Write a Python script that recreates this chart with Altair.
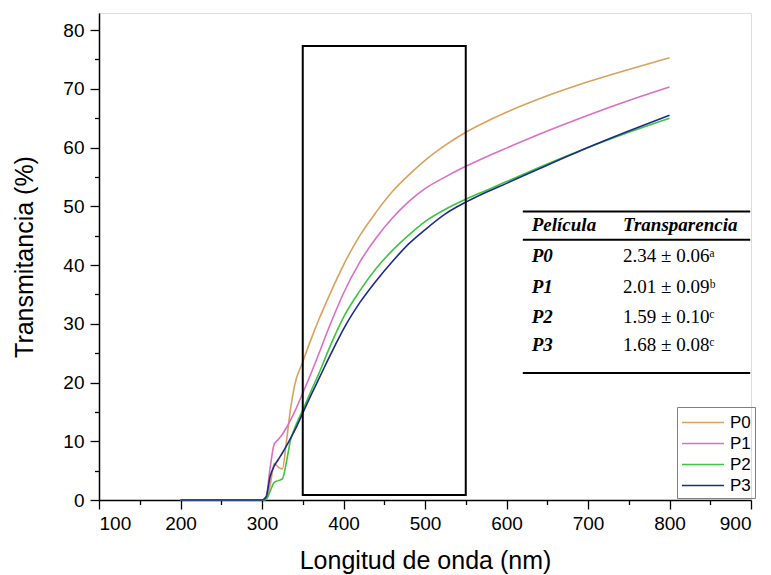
import altair as alt
import pandas as pd

# ---- data ----
wl = [200, 250, 300, 305, 310, 315, 320, 325, 330, 335, 340, 350, 360, 370, 380,
      390, 400, 420, 440, 460, 480, 500, 525, 550, 575, 600, 650, 700, 750, 800]

p0 = [0, 0, 0, 0.2, 2.5, 6.2, 5.6, 5.3, 10.0, 15.5, 19.5, 23.5, 27.3, 30.8, 34.0,
      37.1, 40.0, 45.0, 49.0, 52.5, 55.3, 57.8, 60.4, 62.6, 64.4, 66.0, 68.8, 71.2, 73.3, 75.3]
p1 = [0, 0, 0, 0.5, 5.5, 9.5, 10.3, 11.2, 12.3, 13.6, 15.0, 18.2, 21.5, 25.0, 28.6,
      32.0, 35.2, 40.5, 44.6, 48.0, 50.8, 53.0, 55.0, 56.8, 58.4, 59.9, 62.8, 65.5, 68.0, 70.3]
p2 = [0, 0, 0, 0.1, 1.5, 3.0, 3.3, 3.6, 6.5, 10.2, 12.2, 15.3, 18.5, 21.6, 25.0,
      28.2, 31.1, 35.6, 39.4, 42.5, 45.1, 47.4, 49.5, 51.2, 52.7, 54.2, 57.2, 60.0, 62.6, 65.0]
p3 = [0, 0, 0, 0.5, 4.0, 5.8, 6.9, 8.0, 9.2, 10.5, 11.8, 14.8, 17.8, 20.7, 23.6,
      26.4, 29.1, 33.6, 37.3, 40.6, 43.6, 46.0, 48.7, 50.7, 52.4, 53.9, 57.0, 60.0, 62.8, 65.5]

series = ["P0", "P1", "P2", "P3"]
colors = ["#D9A15A", "#DA6FC6", "#3FC43F", "#1E2A8A"]

# transparency table
films = ["P0", "P1", "P2", "P3"]
transp = ["2.34 \u00b1 0.06\u1d43", "2.01 \u00b1 0.09\u1d47",
          "1.59 \u00b1 0.10\u1d9c", "1.68 \u00b1 0.08\u1d9c"]
headers = ["Película", "Transparencia"]

# highlighted window (nm, %)
box_x = [350, 550]
box_y = [0.85, 77.3]

# ---- layout constants (data coordinates) ----
col1_x, col2_x = 631, 743
header_y = 46.8
row_y = [41.5, 36.3, 31.2, 26.4]
rule_y = [49.1, 44.3, 21.6]
rule_x = [620, 899]

rows = []
for s, vals in zip(series, [p0, p1, p2, p3]):
    for w, v in zip(wl, vals):
        rows.append({"wl": w, "T": v, "Película": s})
df = pd.DataFrame(rows)

xscale = alt.Scale(domain=[100, 900], nice=False, zero=False)
yscale = alt.Scale(domain=[0, 82.9], nice=False)

font = "Liberation Sans"
serif = "Liberation Serif"

lines = alt.Chart(df).mark_line(strokeWidth=1.6, interpolate="monotone").encode(
    x=alt.X("wl:Q", scale=xscale,
            axis=alt.Axis(title="Longitud de onda (nm)", values=list(range(100, 901, 100)),
                          tickSize=9, tickWidth=1.3, domainWidth=1.5, domainColor="black",
                          tickColor="black", labelColor="black", titleColor="black",
                          labelFontSize=19, titleFontSize=25, labelFont=font, titleFont=font,
                          titleFontWeight="normal", labelPadding=5, titlePadding=15, grid=False,
                          orient="bottom")),
    y=alt.Y("T:Q", scale=yscale,
            axis=alt.Axis(title="Transmitancia (%)", values=list(range(0, 81, 10)),
                          tickSize=9, tickWidth=1.3, domainWidth=1.5, domainColor="black",
                          tickColor="black", labelColor="black", titleColor="black",
                          labelFontSize=19, titleFontSize=25, labelFont=font, titleFont=font,
                          titleFontWeight="normal", labelPadding=6, titlePadding=25, grid=False,
                          orient="left")),
    color=alt.Color("Película:N", scale=alt.Scale(domain=series, range=colors),
                    legend=alt.Legend(title=None, orient="none", legendX=578, legendY=394,
                                      symbolType="M-1,0H3", symbolSize=441,
                                      symbolStrokeWidth=1.6, symbolFillColor="transparent",
                                      labelFontSize=17, labelFont=font, labelColor="black",
                                      strokeColor="#808080", padding=4, rowPadding=1,
                                      labelOffset=26)),
    order=alt.Order("wl:Q"),
)

minor = alt.Chart(df).mark_point(opacity=0).encode(
    x=alt.X("wl:Q", scale=xscale,
            axis=alt.Axis(title="", values=list(range(150, 900, 100)), labels=False,
                          domain=False, tickSize=4.5, tickWidth=1.3, tickColor="black",
                          grid=False, orient="bottom")),
    y=alt.Y("T:Q", scale=yscale,
            axis=alt.Axis(title="", values=list(range(5, 81, 10)), labels=False,
                          domain=False, tickSize=4.5, tickWidth=1.3, tickColor="black",
                          grid=False, orient="left")),
)

box_df = pd.DataFrame({"x": [box_x[0]], "x2": [box_x[1]], "y": [box_y[0]], "y2": [box_y[1]]})
box = alt.Chart(box_df).mark_rect(filled=False, stroke="black", strokeWidth=2).encode(
    x=alt.X("x:Q", scale=xscale, axis=None), x2="x2:Q",
    y=alt.Y("y:Q", scale=yscale, axis=None), y2="y2:Q",
)

rule_df = pd.DataFrame({"x": [rule_x[0]] * 3, "x2": [rule_x[1]] * 3, "y": rule_y})
rules = alt.Chart(rule_df).mark_rule(color="black", strokeWidth=2).encode(
    x=alt.X("x:Q", scale=xscale, axis=None), x2="x2:Q",
    y=alt.Y("y:Q", scale=yscale, axis=None),
)

head_df = pd.DataFrame({"x": [col1_x, col2_x], "y": [header_y] * 2, "t": headers})
head = alt.Chart(head_df).mark_text(align="left", baseline="middle", font=serif,
                                    fontSize=19, fontStyle="italic", fontWeight="bold",
                                    color="black").encode(
    x=alt.X("x:Q", scale=xscale, axis=None), y=alt.Y("y:Q", scale=yscale, axis=None),
    text="t:N")

film_df = pd.DataFrame({"x": [col1_x] * 4, "y": row_y, "t": films})
film_text = alt.Chart(film_df).mark_text(align="left", baseline="middle", font=serif,
                                         fontSize=19, fontStyle="italic", fontWeight="bold",
                                         color="black").encode(
    x=alt.X("x:Q", scale=xscale, axis=None), y=alt.Y("y:Q", scale=yscale, axis=None),
    text="t:N")

val_df = pd.DataFrame({"x": [col2_x] * 4, "y": row_y, "t": transp})
val_text = alt.Chart(val_df).mark_text(align="left", baseline="middle", font=serif,
                                       fontSize=19, color="black").encode(
    x=alt.X("x:Q", scale=xscale, axis=None), y=alt.Y("y:Q", scale=yscale, axis=None),
    text="t:N")

chart = alt.layer(lines, minor, box, rules, head, film_text, val_text).resolve_axis(
    x="independent", y="independent"
).properties(
    width=652, height=487,
    autosize=alt.AutoSizeParams(type="none"),
    padding={"left": 99, "top": 13, "right": 20, "bottom": 75},
).configure_view(strokeWidth=0).configure(background="white")

chart.save("out.html", embed_options={"renderer": "svg", "actions": False})
